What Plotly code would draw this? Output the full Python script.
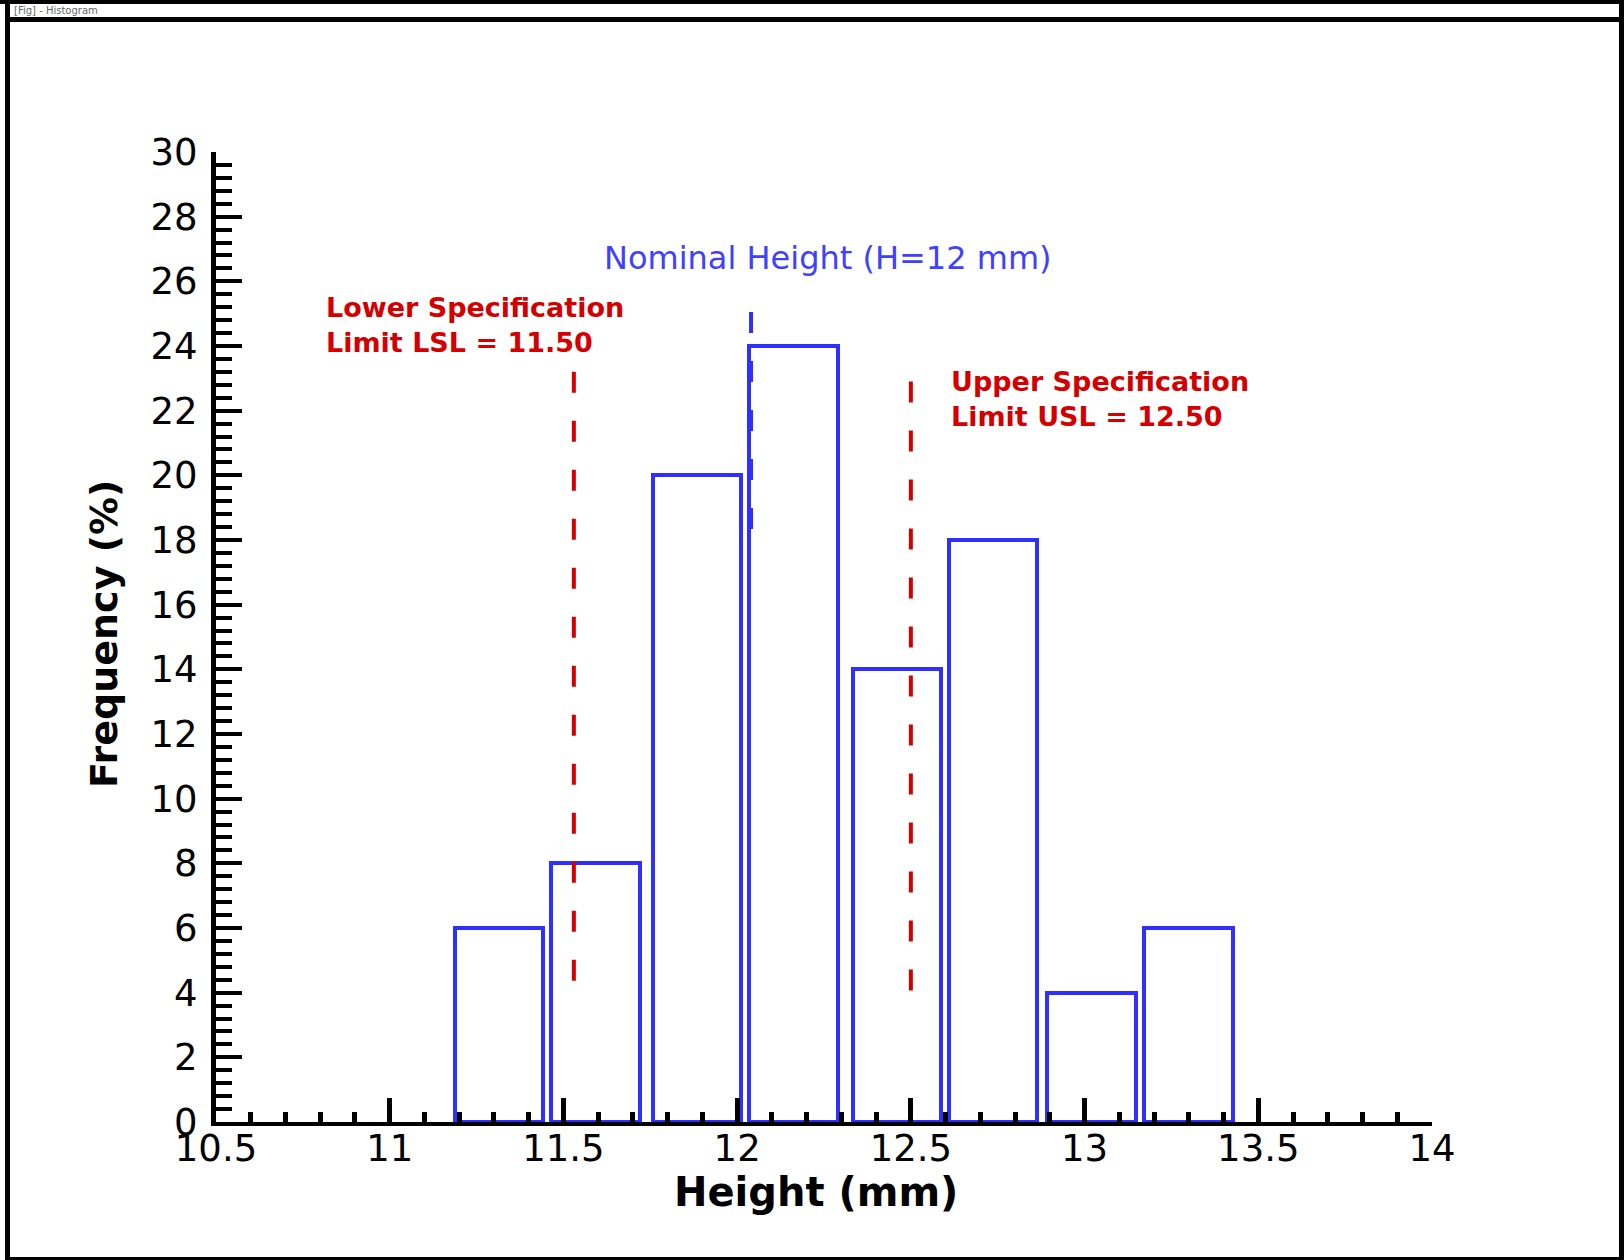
import plotly.graph_objects as go

# ---- data ----
bin_centers = [11.315, 11.592, 11.885, 12.162, 12.460, 12.736, 13.020, 13.299]
frequency = [6, 8, 20, 24, 14, 18, 4, 6]
bar_width = 0.255

lsl_x = [11.53, 11.53]
lsl_y = [23.2, 4.1]
usl_x = [12.50, 12.50]
usl_y = [22.9, 3.7]
nominal_x = [12.04, 12.04]
nominal_y = [25.05, 17.5]

x_range = [10.5, 14]
y_range = [0, 30]

nominal_text = "Nominal Height (H=12 mm)"
lsl_text = ["Lower Specification", "Limit LSL = 11.50"]
usl_text = ["Upper Specification", "Limit USL = 12.50"]
x_title = "Height (mm)"
y_title = "Frequency (%)"
strip_text = "[Fig] - Histogram"

W, H = 1624, 1260
L, R, T, B = 216, 1432, 152, 1122   # plot area in pixels


def px_x(px):
    return (px - L) / (R - L)


def px_y(py):
    return (B - py) / (B - T)


BLUE = "#2f2fff"
RED = "#d40000"

fig = go.Figure()

fig.add_trace(go.Bar(
    x=bin_centers, y=frequency, width=bar_width,
    marker=dict(color="rgba(255,255,255,0)", line=dict(color=BLUE, width=4)),
    showlegend=False, hoverinfo="x+y",
))

fig.add_trace(go.Scatter(x=lsl_x, y=lsl_y, mode="lines",
                         line=dict(color=RED, width=4, dash="21px,28px"),
                         showlegend=False, hoverinfo="skip"))
fig.add_trace(go.Scatter(x=usl_x, y=usl_y, mode="lines",
                         line=dict(color=RED, width=4, dash="21px,28px"),
                         showlegend=False, hoverinfo="skip"))
fig.add_trace(go.Scatter(x=nominal_x, y=nominal_y, mode="lines",
                         line=dict(color=BLUE, width=4, dash="21px,28px"),
                         showlegend=False, hoverinfo="skip"))

red_font = dict(family="DejaVu Sans", size=27, color=RED, weight="bold")

annotations = [
    dict(x=12.262, y=26.72, xref="x", yref="y", text=nominal_text, showarrow=False,
         xanchor="center", yanchor="middle",
         font=dict(family="DejaVu Sans", size=32, color="#4040ff")),
    dict(x=10.811, y=24.66, xref="x", yref="y", text="<br>".join(lsl_text),
         showarrow=False, xanchor="left", yanchor="middle", align="left",
         font=red_font),
    dict(x=12.611, y=22.37, xref="x", yref="y", text="<br>".join(usl_text),
         showarrow=False, xanchor="left", yanchor="middle", align="left",
         font=red_font),
    dict(x=px_x(816), y=px_y(1192), xref="paper", yref="paper", text=x_title,
         showarrow=False, xanchor="center", yanchor="middle",
         font=dict(family="DejaVu Sans", size=40, color="black", weight="bold")),
    dict(x=px_x(104), y=px_y(634), xref="paper", yref="paper", text=y_title,
         showarrow=False, xanchor="center", yanchor="middle", textangle=-90,
         font=dict(family="DejaVu Sans", size=38, color="black", weight="bold")),
    dict(x=px_x(12), y=px_y(10.5), xref="paper", yref="paper", text=strip_text,
         showarrow=False, xanchor="left", yanchor="middle",
         font=dict(family="DejaVu Sans", size=10, color="#666666")),
]

# window frame
frame_rects = [
    (0, 0, 1624, 4),
    (5, 17, 1624, 22),
    (5, 0, 10, 1260),
    (1619, 0, 1624, 1260),
    (5, 1257, 1624, 1260),
]
shapes = []
for x0, y0, x1, y1 in frame_rects:
    shapes.append(dict(type="rect", xref="paper", yref="paper",
                       x0=px_x(x0), x1=px_x(x1), y0=px_y(y1), y1=px_y(y0),
                       fillcolor="black", line=dict(width=0), layer="above"))

tickfont = dict(family="DejaVu Sans", size=37, color="black")

fig.update_layout(
    width=W, height=H,
    margin=dict(l=L, r=W - R, t=T, b=H - B, autoexpand=False),
    paper_bgcolor="white", plot_bgcolor="white",
    annotations=annotations, shapes=shapes,
    bargap=0,
    xaxis=dict(range=x_range, tick0=10.5, dtick=0.5, ticks="inside", ticklen=24,
               tickwidth=5, tickcolor="black", showline=True, linewidth=4,
               linecolor="black", showgrid=False, zeroline=False,
               tickfont=tickfont, ticklabelstandoff=-9,
               minor=dict(dtick=0.1, tick0=10.5, ticks="inside", ticklen=10,
                          tickwidth=5, tickcolor="black", showgrid=False)),
    yaxis=dict(range=y_range, tick0=0, dtick=2, ticks="inside", ticklen=26,
               tickwidth=4, tickcolor="black", showline=True, linewidth=5,
               linecolor="black", showgrid=False, zeroline=False,
               tickfont=tickfont, ticklabelstandoff=6,
               minor=dict(dtick=0.4, tick0=0, ticks="inside", ticklen=16,
                          tickwidth=4, tickcolor="black", showgrid=False)),
)

fig.write_html("out.html",
               config={"displayModeBar": False},
               post_script="document.body.style.margin='0';document.body.style.overflow='hidden';")
